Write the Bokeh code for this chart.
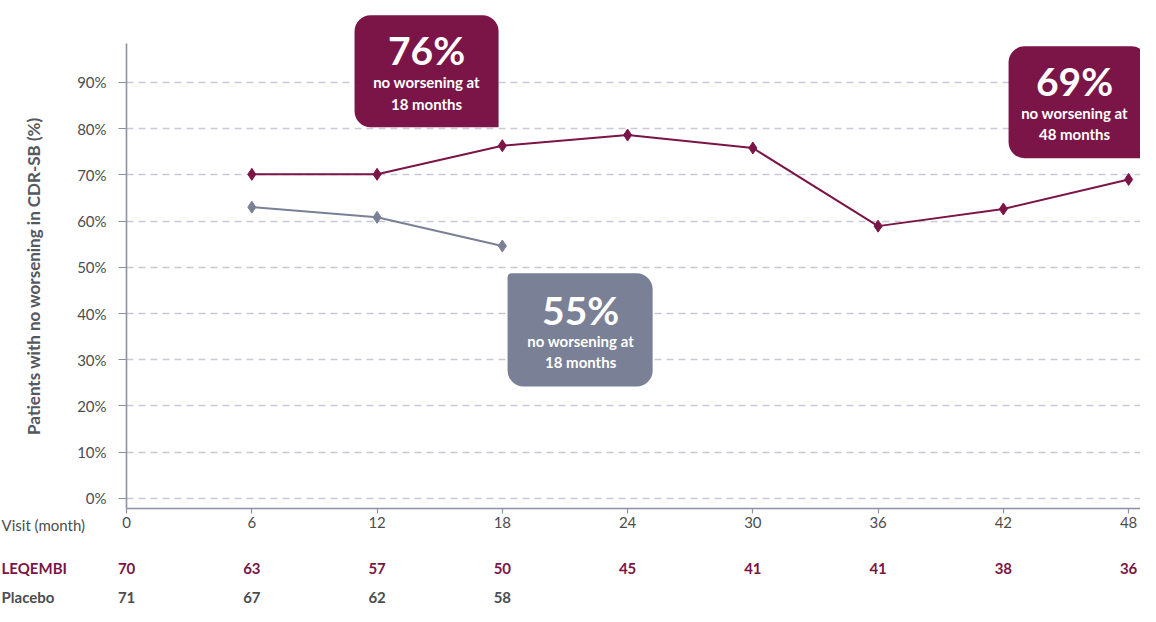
from bokeh.plotting import figure
from bokeh.models import (ColumnDataSource, FixedTicker, PrintfTickFormatter, Range1d,
                          BoxAnnotation, Label, LinearAxis, Grid)
from bokeh.core.properties import value
from bokeh.embed import file_html
from bokeh.resources import INLINE

# ---------------- data ----------------
months = [0, 6, 12, 18, 24, 30, 36, 42, 48]
leq_months = [6, 12, 18, 24, 30, 36, 42, 48]
leq_values = [70.1, 70.1, 76.3, 78.6, 75.8, 58.9, 62.6, 69.0]
pbo_months = [6, 12, 18]
pbo_values = [63.0, 60.8, 54.6]
y_ticks = [0, 10, 20, 30, 40, 50, 60, 70, 80, 90]
leq_n = [70, 63, 57, 50, 45, 41, 41, 38, 36]
pbo_n_months = [0, 6, 12, 18]
pbo_n = [71, 67, 62, 58]
row_names = ["Visit (month)", "LEQEMBI", "Placebo"]

MAROON = "#7b1547"
GREY = "#7a8095"
AXIS = "#8b90a3"
GRID = "#c7cad6"
TXT = "#4d4d4f"
FONT = "Lato"

W, H = 1140, 606
X0, X1 = -6.04, 48.57         # frame covers whole canvas
Y0, Y1 = -23.37, 107.7
X_AXIS_AT = -2.16             # where the x axis line sits
Y_TOP = 98.5                  # top of y axis line
ROW_Y = [-5.84, -15.14, -21.42]
ROW_X = -5.99

p = figure(width=W, height=H, output_backend="svg", toolbar_location=None,
           x_range=Range1d(X0, X1), y_range=Range1d(Y0, Y1),
           x_axis_location=None, y_axis_location=None,
           min_border=0, min_border_left=0, min_border_right=0,
           min_border_top=0, min_border_bottom=0)
p.outline_line_color = None
p.background_fill_color = "white"
p.xgrid.visible = False
p.ygrid.visible = False

xaxis = LinearAxis(ticker=FixedTicker(ticks=months), fixed_location=X_AXIS_AT,
                   bounds=(0, X1))
yaxis = LinearAxis(ticker=FixedTicker(ticks=y_ticks), fixed_location=0,
                   bounds=(X_AXIS_AT, Y_TOP),
                   formatter=PrintfTickFormatter(format="%d%%"))
for ax in (xaxis, yaxis):
    ax.axis_line_color = AXIS
    ax.axis_line_width = 1.6
    ax.major_tick_line_color = AXIS
    ax.major_tick_line_width = 1.2
    ax.minor_tick_line_color = None
    ax.major_tick_in = 0
    ax.major_label_text_font = FONT
    ax.major_label_text_font_size = "15px"
    ax.major_label_text_color = TXT
yaxis.major_tick_out = 8
yaxis.major_label_standoff = 12
xaxis.major_tick_out = 5
xaxis.major_label_standoff = 4
yaxis.axis_label = "Patients with no worsening in CDR-SB (%)"
yaxis.axis_label_text_font = FONT
yaxis.axis_label_text_font_size = "17px"
yaxis.axis_label_text_font_style = "bold"
yaxis.axis_label_text_color = "#55585c"
yaxis.axis_label_standoff = 30

# dashed horizontal grid starting at the y axis
if "cross_bounds" in Grid.properties():
    grid = Grid(dimension=1, ticker=FixedTicker(ticks=y_ticks), cross_bounds=(0, X1),
                grid_line_color=GRID, grid_line_dash="7 5", grid_line_width=1.3)
    p.add_layout(grid)
else:
    p.segment(x0=[0] * len(y_ticks), x1=[X1] * len(y_ticks), y0=y_ticks, y1=y_ticks,
              line_color=GRID, line_dash="7 5", line_width=1.3, level="underlay")

p.add_layout(xaxis, "below")
p.add_layout(yaxis, "left")

# series
leq = ColumnDataSource(dict(x=leq_months, y=leq_values))
pbo = ColumnDataSource(dict(x=pbo_months, y=pbo_values))
p.line("x", "y", source=pbo, line_color=GREY, line_width=2)
p.scatter("x", "y", source=pbo, marker="diamond", size=12, fill_color=GREY, line_color=GREY)
p.line("x", "y", source=leq, line_color=MAROON, line_width=2)
p.scatter("x", "y", source=leq, marker="diamond", size=12, fill_color=MAROON, line_color=MAROON)

# callouts
callouts = [
    (10.92, 17.82, 104.5, 80.3, (16, 16, 0, 16), MAROON, "76%", "no worsening at", "18 months", 14.37, 96.9, 90.0, 85.4),
    (42.25, 48.9, 97.8, 73.6, (16, 16, 0, 16), MAROON, "69%", "no worsening at", "48 months", 45.41, 90.2, 83.3, 78.8),
    (18.25, 25.2, 48.7, 24.2, (4, 16, 16, 16), GREY, "55%", "no worsening at", "18 months", 21.75, 40.8, 34.1, 29.6),
]
for (l, r, t, b, rad, col, big, l1, l2, tx, yb, y1, y2) in callouts:
    p.add_layout(BoxAnnotation(left=l, right=r, top=t, bottom=b, fill_color=col, fill_alpha=1.0,
                               line_color=None, border_radius=rad))
    p.add_layout(Label(x=tx, y=yb, text=big, text_font=FONT, text_font_style="bold",
                       text_font_size="39px", text_color="white", text_align="center",
                       text_baseline="middle"))
    for yy, tt in ((y1, l1), (y2, l2)):
        p.add_layout(Label(x=tx, y=yy, text=tt, text_font=FONT, text_font_style="bold",
                           text_font_size="15px", text_color="white", text_align="center",
                           text_baseline="middle"))

# table under the axis
p.text(x=[ROW_X], y=[ROW_Y[0]], text=[row_names[0]], text_font=value(FONT),
       text_font_size="15px", text_color=TXT, text_align="left", text_baseline="middle")
p.text(x=[ROW_X], y=[ROW_Y[1]], text=[row_names[1]], text_font=value(FONT),
       text_font_size="15px", text_font_style="bold", text_color=MAROON,
       text_align="left", text_baseline="middle")
p.text(x=[ROW_X], y=[ROW_Y[2]], text=[row_names[2]], text_font=value(FONT),
       text_font_size="15px", text_font_style="bold", text_color=TXT,
       text_align="left", text_baseline="middle")
leq_tab = ColumnDataSource(dict(x=months, y=[ROW_Y[1]] * len(months), t=[str(v) for v in leq_n]))
pbo_tab = ColumnDataSource(dict(x=pbo_n_months, y=[ROW_Y[2]] * len(pbo_n_months), t=[str(v) for v in pbo_n]))
p.text("x", "y", text="t", source=leq_tab, text_font=value(FONT), text_font_size="15px",
       text_font_style="bold", text_color=MAROON, text_align="center", text_baseline="middle")
p.text("x", "y", text="t", source=pbo_tab, text_font=value(FONT), text_font_size="15px",
       text_font_style="bold", text_color=TXT, text_align="center", text_baseline="middle")

open("out.html", "w").write(file_html(p, INLINE))
